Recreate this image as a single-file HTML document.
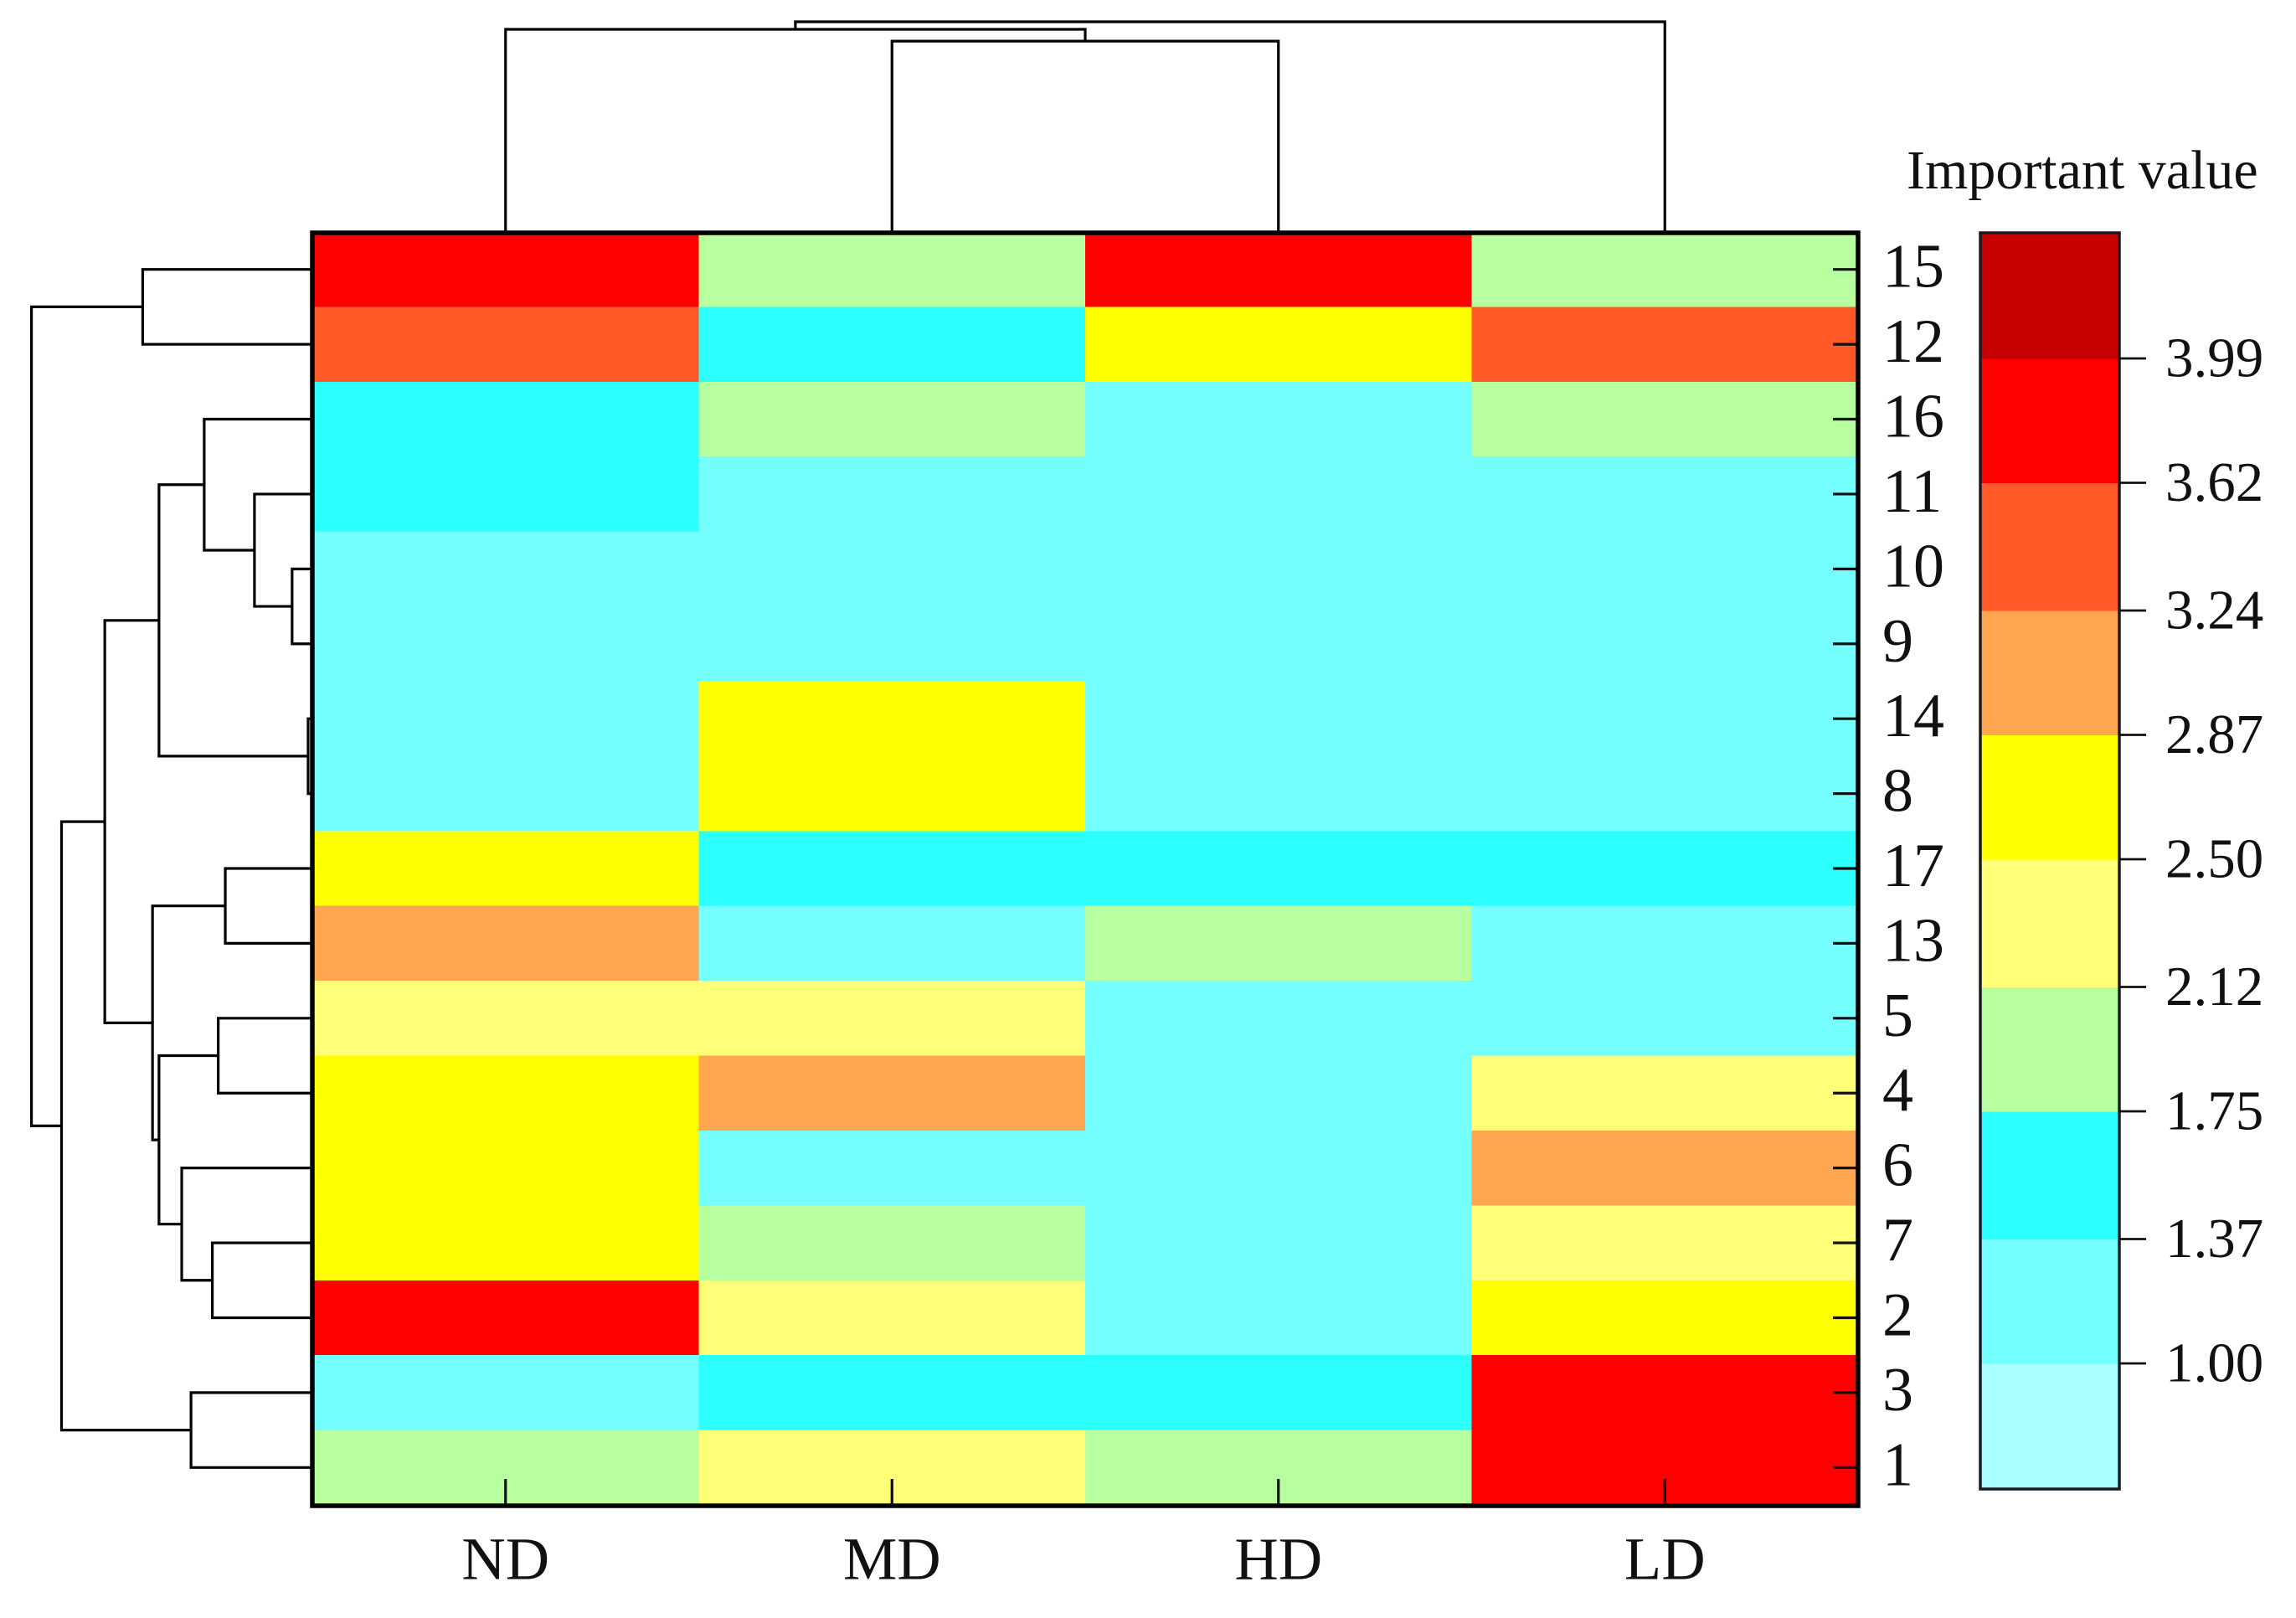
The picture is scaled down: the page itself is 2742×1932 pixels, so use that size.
<!DOCTYPE html>
<html lang="en">
<head>
<meta charset="utf-8">
<title>Important value heatmap</title>
<style>
html,body{margin:0;padding:0;background:#fff;}
svg{display:block;}
text{font-family:"Liberation Serif","Times New Roman",serif;fill:#111;}
</style>
</head>
<body>
<svg id="chart" xmlns="http://www.w3.org/2000/svg" width="2742" height="1932" viewBox="0 0 2742 1932">
  <rect x="0" y="0" width="2742" height="1932" fill="#ffffff"></rect>
</svg>
<script>
// ---- data ----
const columns = ['ND', 'MD', 'HD', 'LD'];
const rows = ['15', '12', '16', '11', '10', '9', '14', '8', '17', '13', '5', '4', '6', '7', '2', '3', '1'];
const valuesND = [3.8, 3.4, 1.5, 1.5, 1.2, 1.2, 1.2, 1.2, 2.7, 3.0, 2.3, 2.7, 2.7, 2.7, 3.8, 1.2, 1.9];
const valuesMD = [1.9, 1.5, 1.9, 1.2, 1.2, 1.2, 2.7, 2.7, 1.5, 1.2, 2.3, 3.0, 1.2, 1.9, 2.3, 1.5, 2.3];
const valuesHD = [3.8, 2.7, 1.2, 1.2, 1.2, 1.2, 1.2, 1.2, 1.5, 1.9, 1.2, 1.2, 1.2, 1.2, 1.2, 1.5, 1.9];
const valuesLD = [1.9, 3.4, 1.9, 1.2, 1.2, 1.2, 1.2, 1.2, 1.5, 1.2, 1.2, 2.3, 3.0, 2.3, 2.7, 3.8, 3.8];
const colorTicks = [1.00, 1.37, 1.75, 2.12, 2.50, 2.87, 3.24, 3.62, 3.99];
const colorTickLabels = ['1.00', '1.37', '1.75', '2.12', '2.50', '2.87', '3.24', '3.62', '3.99'];
const binColors = ['#aaffff', '#75ffff', '#2dffff', '#b8ffa0', '#ffff78', '#ffff00', '#ffa650', '#ff5a28', '#ff0000', '#c60000'];

// row dendrogram: each merge joins two items (row label or earlier merge "mN") at a distance (0-100)
const rowMergeA = ['15', '10', '11', '16', '14', 'm3', '17', '5', '7', '6', 'm7', 'm6', 'm5', '3', 'm12', 'm0'];
const rowMergeB = ['12', '9', 'm1', 'm2', '8', 'm4', '13', '4', '2', 'm8', 'm9', 'm10', 'm11', '1', 'm13', 'm14'];
const rowMergeDistance = [60.4, 7.2, 20.6, 38.5, 1.5, 54.6, 31.0, 33.5, 35.6, 46.5, 54.6, 56.9, 73.9, 43.2, 89.3, 100];

// column dendrogram
const colMergeA = ['MD', 'ND', 'm1'];
const colMergeB = ['HD', 'm0', 'LD'];
const colMergeDistance = [90.8, 96.4, 100];

// ---- layout ----
const plot = {left: 373, right: 2219, top: 277, bottom: 1797};
const bar = {left: 2365, right: 2531, top: 278, bottom: 1778};
const rowDendroSpan = 335.4;
const colDendroSpan = 251;
const svg = document.getElementById('chart');
const NS = 'http://www.w3.org/2000/svg';

function make(tag, name, props, parent) {
  const el = document.createElementNS(NS, tag);
  
  
  for (const k in props) el.setAttribute(k, props[k]);
  (parent || svg).appendChild(el);
  return el;
}
function label(str, x, y, size, name, anchor, parent) {
  const t = make('text', name, {x: x, y: y, 'font-size': size, 'text-anchor': anchor || 'start'}, parent);
  t.textContent = str;
  return t;
}

// ---- scales ----
const colW = (plot.right - plot.left) / columns.length;
const rowH = (plot.bottom - plot.top) / rows.length;
const xCol = i => plot.left + i * colW;
const yRow = i => plot.top + i * rowH;
const xColMid = i => xCol(i) + colW / 2;
const yRowMid = i => yRow(i) + rowH / 2;
const step = (colorTicks[colorTicks.length - 1] - colorTicks[0]) / (colorTicks.length - 1);
const barLo = colorTicks[0] - step;
const barHi = colorTicks[colorTicks.length - 1] + step;
const yBar = v => bar.bottom - (v - barLo) / (barHi - barLo) * (bar.bottom - bar.top);
function colorOf(v) {
  let n = 0;
  for (const t of colorTicks) if (v >= t) n++;
  return binColors[n];
}

// ---- heatmap cells ----
const series = [valuesND, valuesMD, valuesHD, valuesLD];
const cells = make('g', 'heatmap-cells', {'shape-rendering': 'crispEdges'});
series.forEach((vals, c) => {
  vals.forEach((v, r) => {
    make('rect', 'cell-' + columns[c] + '-' + rows[r], {
      x: xCol(c), y: yRow(r), width: colW + 0.5, height: rowH + 0.5, fill: colorOf(v)
    }, cells);
  });
});

// ---- ticks and axis frame ----
columns.forEach((c, i) => {
  make('line', 'x-tick-' + c, {x1: xColMid(i), x2: xColMid(i), y1: plot.bottom, y2: plot.bottom - 31, stroke: '#111', 'stroke-width': 3.2});
  label(c, xColMid(i), 1885.5, 72.5, 'x-label-' + c, 'middle');
});
rows.forEach((r, i) => {
  make('line', 'y-tick-' + r, {x1: plot.right, x2: plot.right - 30, y1: yRowMid(i), y2: yRowMid(i), stroke: '#111', 'stroke-width': 3.2});
  label(r, 2248, yRowMid(i) + 21, 74, 'y-label-' + r);
});
make('rect', 'plot-frame', {x: plot.left, y: plot.top + 1, width: plot.right - plot.left, height: plot.bottom - plot.top, fill: 'none', stroke: '#000', 'stroke-width': 5.5});

// ---- dendrograms ----
function rowPos(id, memo) {
  if (id[0] === 'm') return memo[+id.slice(1)];
  return {along: yRowMid(rows.indexOf(id)), depth: 0};
}
function colPos(id, memo) {
  if (id[0] === 'm') return memo[+id.slice(1)];
  return {along: xColMid(columns.indexOf(id)), depth: 0};
}
const rowTree = make('g', 'row-dendrogram', {fill: 'none', stroke: '#000', 'stroke-width': 3.2});
const rowMemo = [];
rowMergeDistance.forEach((d, i) => {
  const a = rowPos(rowMergeA[i], rowMemo);
  const b = rowPos(rowMergeB[i], rowMemo);
  const toX = depth => plot.left - depth / 100 * rowDendroSpan;
  const x = toX(d);
  make('path', 'row-merge-' + i, {d: 'M' + toX(a.depth) + ' ' + a.along + 'H' + x + 'V' + b.along + 'H' + toX(b.depth)}, rowTree);
  rowMemo.push({along: (a.along + b.along) / 2, depth: d});
});
const colTree = make('g', 'column-dendrogram', {fill: 'none', stroke: '#000', 'stroke-width': 3.2});
const colMemo = [];
colMergeDistance.forEach((d, i) => {
  const a = colPos(colMergeA[i], colMemo);
  const b = colPos(colMergeB[i], colMemo);
  const toY = depth => plot.top - depth / 100 * colDendroSpan;
  const y = toY(d);
  make('path', 'column-merge-' + i, {d: 'M' + a.along + ' ' + toY(a.depth) + 'V' + y + 'H' + b.along + 'V' + toY(b.depth)}, colTree);
  colMemo.push({along: (a.along + b.along) / 2, depth: d});
});

// ---- colour bar ----
label('Important value', 2277, 225, 66, 'legend-title');
const legend = make('g', 'color-bar', {});
const edges = [barLo].concat(colorTicks, [barHi]);
binColors.forEach((col, i) => {
  make('rect', 'color-bar-bin-' + i, {
    x: bar.left, y: yBar(edges[i + 1]), width: bar.right - bar.left,
    height: yBar(edges[i]) - yBar(edges[i + 1]) + 0.5, fill: col, 'shape-rendering': 'crispEdges'
  }, legend);
});
make('rect', 'color-bar-border', {x: bar.left, y: bar.top, width: bar.right - bar.left, height: bar.bottom - bar.top, fill: 'none', stroke: '#1a1a22', 'stroke-width': 3.5}, legend);
colorTicks.forEach((v, i) => {
  make('line', 'color-bar-tick-' + colorTickLabels[i], {x1: bar.right, x2: bar.right + 32, y1: yBar(v), y2: yBar(v), stroke: '#111', 'stroke-width': 2.8}, legend);
  label(colorTickLabels[i], 2586, yBar(v) + 21.5, 67, 'color-bar-label-' + colorTickLabels[i], 'start', legend);
});
</script>
</body>
</html>
